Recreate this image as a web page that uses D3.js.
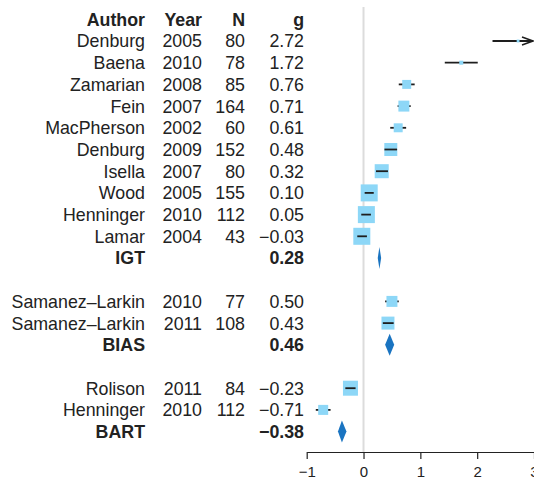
<!DOCTYPE html>
<html>
<head>
<meta charset="utf-8">
<script src="https://cdn.jsdelivr.net/npm/d3@7"></script>
<style>
body { margin: 0; background: #fff; }
text { font-family: "Liberation Sans", Arial, sans-serif; }
</style>
</head>
<body>
<div id="chart"></div>
<script>
// study rows
var authors = ["Denburg", "Baena", "Zamarian", "Fein", "MacPherson", "Denburg", "Isella", "Wood", "Henninger", "Lamar",
               "Samanez–Larkin", "Samanez–Larkin", "Rolison", "Henninger"];
var years = [2005, 2010, 2008, 2007, 2002, 2009, 2007, 2005, 2010, 2004, 2010, 2011, 2011, 2010];
var sample_n = [80, 78, 85, 164, 60, 152, 80, 155, 112, 43, 77, 108, 84, 112];
var effect_g = [2.72, 1.72, 0.76, 0.71, 0.61, 0.48, 0.32, 0.10, 0.05, -0.03, 0.50, 0.43, -0.23, -0.71];
var ci_low = [2.27, 1.43, 0.62, 0.60, 0.47, 0.37, 0.22, 0.02, -0.04, -0.11, 0.38, 0.34, -0.32, -0.84];
var ci_high = [3.17, 2.01, 0.90, 0.83, 0.75, 0.59, 0.43, 0.18, 0.13, 0.06, 0.62, 0.53, -0.14, -0.58];
var weights = [2, 4, 20, 30, 20, 42, 49, 72, 72, 72, 30, 42, 56, 25];
var study_group = [0, 0, 0, 0, 0, 0, 0, 0, 0, 0, 1, 1, 2, 2];

// summary rows
var group_names = ["IGT", "BIAS", "BART"];
var group_g = [0.28, 0.46, -0.38];
var group_low = [0.25, 0.38, -0.45];
var group_high = [0.31, 0.54, -0.30];

var headers = ["Author", "Year", "N", "g"];
var tick_values = [-1, 0, 1, 2, 3];

var width = 534, height = 479;
var box_color = "#8dd7f7", diamond_color = "#1a74c1";
var font_size = 17.8;

// work out which row every study / summary goes on
var study_rows = [], group_rows = [];
var row = 0;
group_names.forEach(function (name, gi) {
    study_group.forEach(function (grp, si) {
        if (grp === gi) study_rows[si] = row++;
    });
    group_rows[gi] = row++;
    row++; // blank line between groups
});
var last_row = row - 2;

var x = d3.scaleLinear().domain([-1, 3]).range([306.7, 534]);
var y = d3.scaleLinear().domain([0, last_row]).range([41, 431.6]);
var box_size = d3.scaleSqrt().domain([0, d3.max(weights)]).range([0, 17]);
var fmt_g = d3.format(".2f");

// column right edges
var col_x = [145, 202, 245, 304];

var svg = d3.select("#chart").append("svg")
            .attr("width", width)
            .attr("height", height);

// zero reference line
svg.append("line")
   .attr("x1", x(0)).attr("x2", x(0))
   .attr("y1", 7).attr("y2", 452)
   .attr("stroke", "#dcdcdc")
   .attr("stroke-width", 2);

// header
svg.append("g").selectAll("text")
   .data(headers)
   .enter().append("text")
   .attr("x", function (d, i) { return col_x[i]; })
   .attr("y", y(-1))
   .attr("dy", "0.36em")
   .attr("text-anchor", "end")
   .attr("font-size", font_size)
   .attr("font-weight", "bold")
   .attr("fill", "#222")
   .text(function (d) { return d; });

// study text columns
var study_idx = d3.range(authors.length);
var cols = [
    function (i) { return authors[i]; },
    function (i) { return years[i]; },
    function (i) { return sample_n[i]; },
    function (i) { return fmt_g(effect_g[i]); }
];
cols.forEach(function (getter, c) {
    svg.append("g").selectAll("text")
       .data(study_idx)
       .enter().append("text")
       .attr("x", col_x[c])
       .attr("y", function (i) { return y(study_rows[i]); })
       .attr("dy", "0.36em")
       .attr("text-anchor", "end")
       .attr("font-size", font_size)
       .attr("fill", "#222")
       .text(getter);
});

// summary text
var group_idx = d3.range(group_names.length);
svg.append("g").selectAll("text")
   .data(group_idx)
   .enter().append("text")
   .attr("x", col_x[0])
   .attr("y", function (i) { return y(group_rows[i]); })
   .attr("dy", "0.36em")
   .attr("text-anchor", "end")
   .attr("font-size", font_size)
   .attr("font-weight", "bold")
   .attr("fill", "#222")
   .text(function (i) { return group_names[i]; });
svg.append("g").selectAll("text")
   .data(group_idx)
   .enter().append("text")
   .attr("x", col_x[3])
   .attr("y", function (i) { return y(group_rows[i]); })
   .attr("dy", "0.36em")
   .attr("text-anchor", "end")
   .attr("font-size", font_size)
   .attr("font-weight", "bold")
   .attr("fill", "#222")
   .text(function (i) { return fmt_g(group_g[i]); });

var x_max = x.domain()[1];
function ci_x2(i) {
    return ci_high[i] > x_max ? x(x_max) - 1 : x(ci_high[i]);
}
function draw_ci(sel, idx) {
    sel.selectAll("line")
       .data(idx)
       .enter().append("line")
       .attr("x1", function (i) { return x(ci_low[i]); })
       .attr("x2", ci_x2)
       .attr("y1", function (i) { return y(study_rows[i]); })
       .attr("y2", function (i) { return y(study_rows[i]); })
       .attr("stroke", "#1e1e1e")
       .attr("stroke-width", 1.8);
}

// confidence intervals under the boxes
draw_ci(svg.append("g"), study_idx);

// arrows for intervals running off the right
svg.append("g").selectAll("path")
   .data(study_idx.filter(function (i) { return ci_high[i] > x_max; }))
   .enter().append("path")
   .attr("d", function (i) {
       var ax = x(x_max) - 1, ay = y(study_rows[i]);
       return "M" + (ax - 11) + "," + (ay - 4) + "L" + ax + "," + ay + "L" + (ax - 11) + "," + (ay + 4);
   })
   .attr("fill", "none")
   .attr("stroke", "#1e1e1e")
   .attr("stroke-width", 1.5);

// boxes
svg.append("g").selectAll("rect")
   .data(study_idx)
   .enter().append("rect")
   .attr("x", function (i) { return x(effect_g[i]) - box_size(weights[i]) / 2; })
   .attr("y", function (i) { return y(study_rows[i]) - box_size(weights[i]) / 2; })
   .attr("width", function (i) { return box_size(weights[i]); })
   .attr("height", function (i) { return box_size(weights[i]); })
   .attr("fill", box_color);

// redraw intervals that sit inside their box so they stay visible
draw_ci(svg.append("g"), study_idx.filter(function (i) {
    var half = box_size(weights[i]) / 2, cx = x(effect_g[i]);
    return x(ci_low[i]) >= cx - half - 0.5 && ci_x2(i) <= cx + half + 0.5;
}));

// summary diamonds
svg.append("g").selectAll("path")
   .data(group_idx)
   .enter().append("path")
   .attr("d", function (i) {
       var cy = y(group_rows[i]), h = 11;
       return "M" + x(group_low[i]) + "," + cy +
              "L" + x(group_g[i]) + "," + (cy - h) +
              "L" + x(group_high[i]) + "," + cy +
              "L" + x(group_g[i]) + "," + (cy + h) + "Z";
   })
   .attr("fill", diamond_color);

// x axis
var axis = svg.append("g")
              .attr("transform", "translate(0,452)")
              .call(d3.axisBottom(x)
                      .tickValues(tick_values)
                      .tickFormat(d3.format("d"))
                      .tickSize(7)
                      .tickSizeOuter(0)
                      .tickPadding(7));
axis.selectAll("text")
    .attr("font-size", 15)
    .attr("font-family", "Liberation Sans, Arial, sans-serif")
    .attr("fill", "#222");
axis.selectAll("line, path")
    .attr("stroke", "#222")
    .attr("stroke-width", 1.2);
</script>
</body>
</html>
